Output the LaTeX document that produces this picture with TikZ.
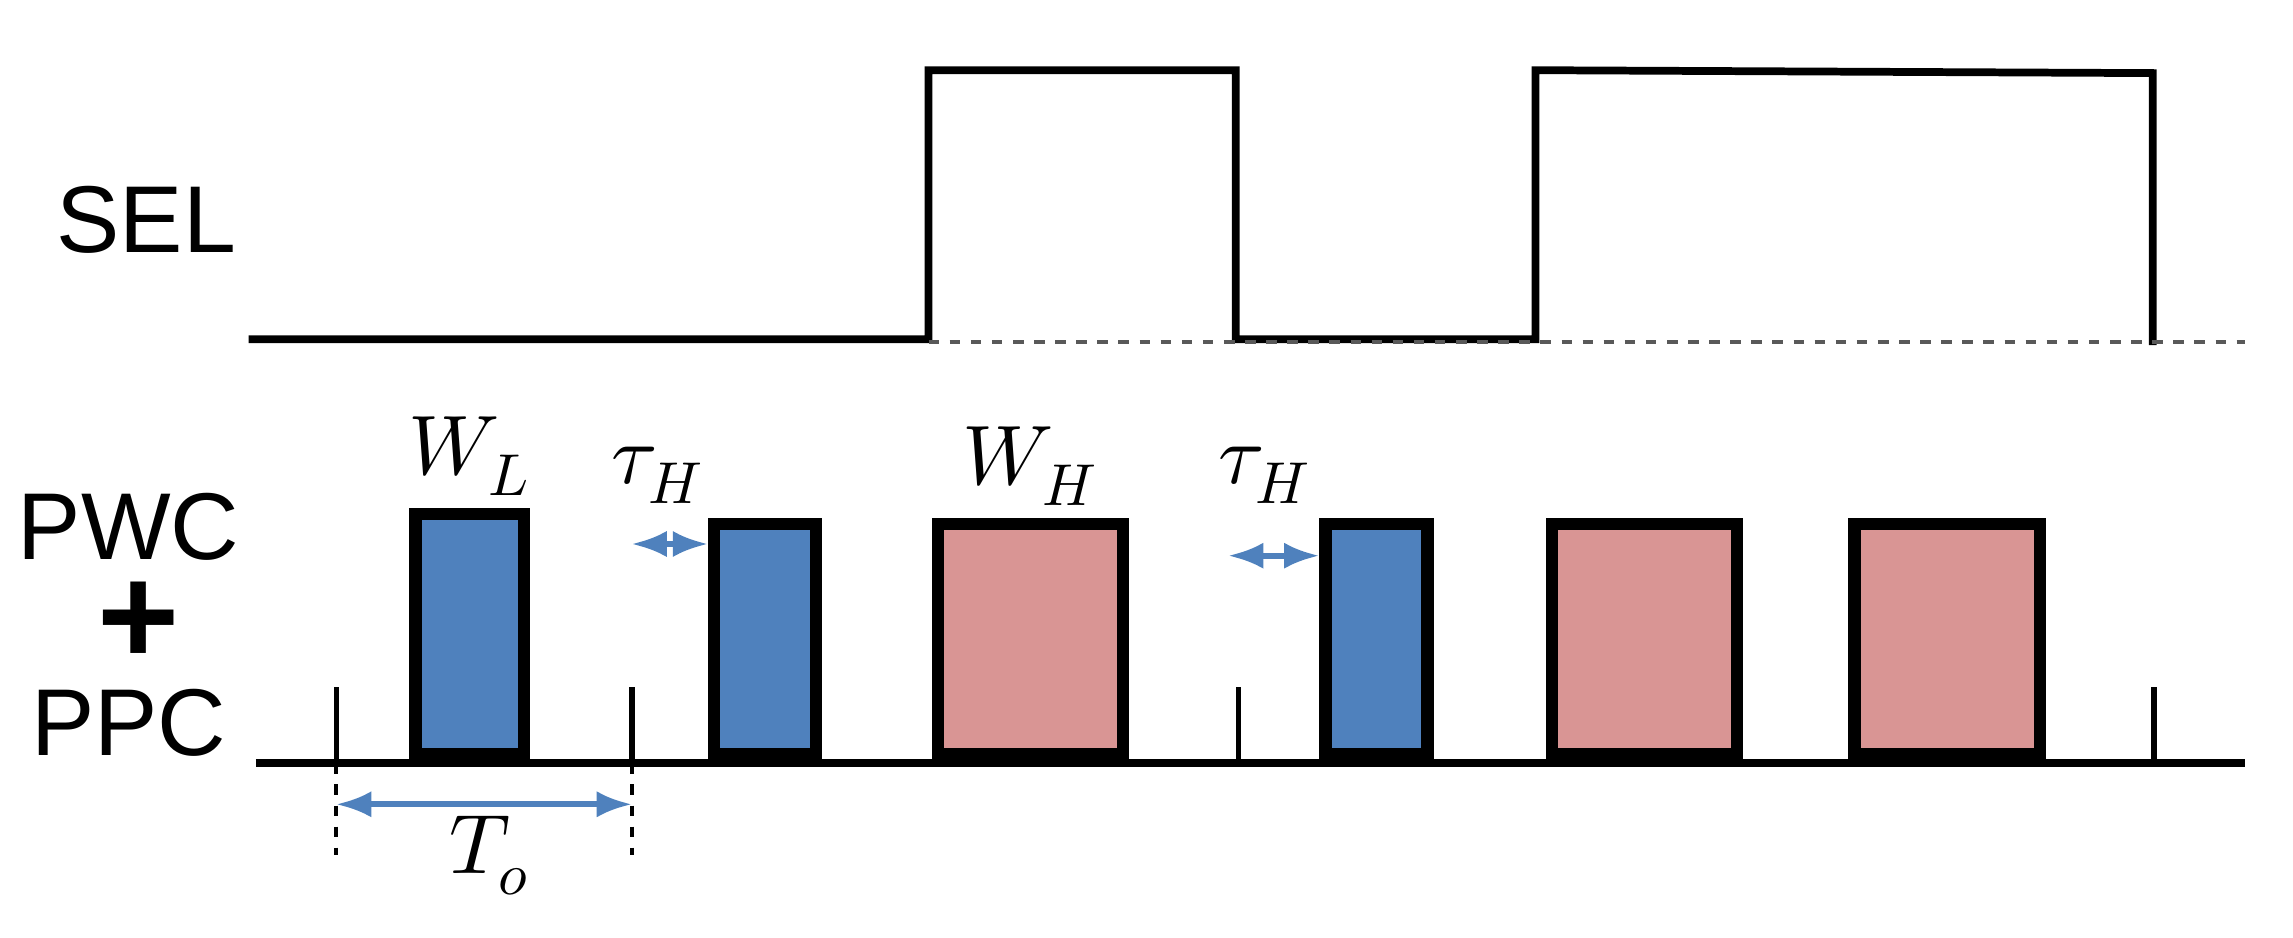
\documentclass[tikz,border=0pt]{standalone}
\usepackage{fontspec}
\setmainfont{Liberation Sans}
\usepackage{unicode-math}
\setmathfont{Latin Modern Math}
\usetikzlibrary{arrows.meta, positioning}
\definecolor{pblue}{HTML}{4F81BD}
\definecolor{ppink}{HTML}{D99594}
\begin{document}
\begin{tikzpicture}[x=0.014624cm, y=-0.014624cm]
    \tikzset{
        sig/.style={line width=2.2pt},
        lbl/.style={font=\fontsize{27}{27}\selectfont},
        mlbl/.style={font=\fontsize{24}{24}\selectfont},
        lpulse/.style={draw, line width=3.6pt, fill=pblue},
        hpulse/.style={draw, line width=3.6pt, fill=ppink},
        tick/.style={line width=1.6pt},
        dim/.style={{Latex[length=3.5mm]}-{Latex[length=3.5mm]}, pblue, line width=1.6pt}
    }
    \useasboundingbox (0,0) rectangle (1568,641);

    % SEL
    \node[lbl] (sel) at (100,150) {SEL};
    \draw[sig] (170,232) -- (635,232) -- (635,48) -- (845,48) -- (845,232) -- (1050,232) -- (1050,48) -- (1472,50) -- (1472,236);
    \draw[dashed, gray!70!black, line width=1.1pt] (635,234) -- (1535,234);

    % PWC + PPC
    \node[lbl] (pwc) at (88,360) {PWC};
    \node[font=\fontsize{40}{40}\selectfont\bfseries] (plus) at (95,426) {+};
    \node[lbl] (ppc) at (88,494) {PPC};

    \draw[line width=2.2pt] (175,522) -- (1535,522);
    \foreach \x in {230,432,847,1473}
        \draw[tick] (\x,470) -- (\x,522);
    \foreach \x in {230,432}
        \draw[dashed, line width=1.1pt] (\x,522) -- (\x,585);

    \node[lpulse, minimum width=1.08cm, minimum height=2.4cm, anchor=south west] (wl) at (280,520) {};
    \node[lpulse, minimum width=1.02cm, minimum height=2.3cm, anchor=south west] (l2) at (484,520) {};
    \node[lpulse, minimum width=1.02cm, minimum height=2.3cm, anchor=south west] (l3) at (902,520) {};
    \node[hpulse, minimum width=1.85cm, minimum height=2.3cm, anchor=south west] (wh) at (637,520) {};
    \node[hpulse, minimum width=1.85cm, minimum height=2.3cm, anchor=south west] (h2) at (1057,520) {};
    \node[hpulse, minimum width=1.85cm, minimum height=2.3cm, anchor=south west] (h3) at (1264,520) {};

    % labels
    \node[mlbl, above=0pt of wl] (wllbl) {$W_L$};
    \node[mlbl, above=0pt of wh] (whlbl) {$W_H$};
    \coordinate (t1a) at (432,372);
    \coordinate (t2a) at (840,380);
    \draw[dim] (t1a) -- (t1a -| l2.west);
    \draw[dim] (t2a) -- (t2a -| l3.west);
    \node[mlbl] (tau1) at (450,325) {$\tau_H$};
    \node[mlbl] (tau2) at (865,325) {$\tau_H$};
    \coordinate (to1) at (230,550);
    \coordinate (to2) at (432,550);
    \draw[dim] (to1) -- (to2);
    \node[mlbl] (to) at (335,585) {$T_o$};
\end{tikzpicture}
\end{document}
